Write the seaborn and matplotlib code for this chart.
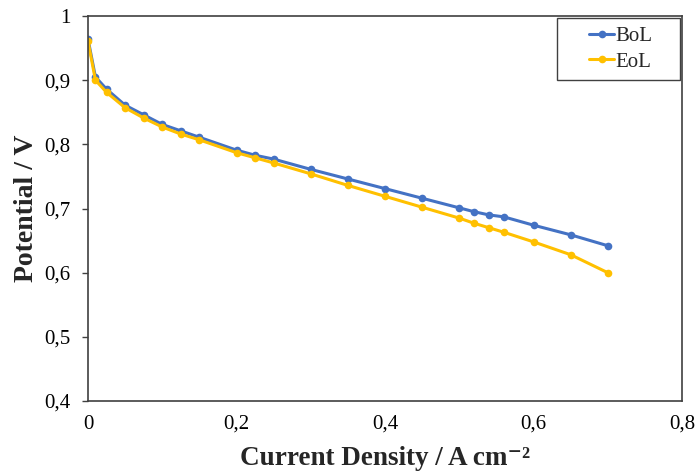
import matplotlib
matplotlib.use("Agg")
import matplotlib.pyplot as plt
import seaborn as sns
import pandas as pd
from matplotlib.patches import Rectangle
from matplotlib.ticker import FuncFormatter, MultipleLocator

current = [0, 0.01, 0.025, 0.05, 0.075, 0.1, 0.125, 0.15, 0.2, 0.225, 0.25,
           0.3, 0.35, 0.4, 0.45, 0.5, 0.52, 0.54, 0.56, 0.6, 0.65, 0.7]
bol = [0.964, 0.905, 0.886, 0.861, 0.846, 0.831, 0.821, 0.811, 0.791, 0.783, 0.777,
       0.761, 0.746, 0.731, 0.716, 0.701, 0.695, 0.690, 0.687, 0.674, 0.659, 0.642]
eol = [0.961, 0.900, 0.881, 0.857, 0.841, 0.827, 0.816, 0.807, 0.787, 0.779, 0.771,
       0.754, 0.736, 0.719, 0.702, 0.685, 0.677, 0.670, 0.663, 0.648, 0.628, 0.600]
series_names = ["BoL", "EoL"]
colors = ["#4472C4", "#FFC000"]

df = pd.concat([
    pd.DataFrame({"x": current, "y": bol, "s": series_names[0]}),
    pd.DataFrame({"x": current, "y": eol, "s": series_names[1]}),
])

sns.set_style("white")
plt.rcParams["font.family"] = ["Liberation Serif", "DejaVu Serif"]

fig = plt.figure(figsize=(6.98, 4.74), dpi=100)
ax = fig.add_axes([88/698, 1 - 401/474, (682-88)/698, (401-16)/474])

sns.lineplot(data=df, x="x", y="y", hue="s", palette=colors, marker="o",
             markersize=5.5, markeredgewidth=0, linewidth=2.2, sort=False, ax=ax)

ax.set_xlim(0, 0.8)
ax.set_ylim(0.4, 1.0)
ax.xaxis.set_major_locator(MultipleLocator(0.2))
ax.yaxis.set_major_locator(MultipleLocator(0.1))
fmt = FuncFormatter(lambda v, p: ("%g" % round(v, 2)).replace(".", ","))
ax.xaxis.set_major_formatter(fmt)
ax.yaxis.set_major_formatter(fmt)
ax.tick_params(axis="both", labelsize=15, colors="#404040", labelcolor="black")
ax.tick_params(axis="x", length=0, pad=10)
ax.tick_params(axis="y", length=4.5, width=1, direction="out", left=True, pad=8)

for sp in ax.spines.values():
    sp.set_color("#404040")
    sp.set_linewidth(1.2)

ax.set_xlabel("Current Density / A cm\u207b\u00b2", fontsize=19.5, fontweight="bold", labelpad=9)
ax.set_ylabel("Potential / V", fontsize=20, fontweight="bold", labelpad=4)

# legend: frame drawn as a box, entries centred inside it
box_x0, box_y0, box_w, box_h = 0.790, 0.834, 0.207, 0.161
ax.add_patch(Rectangle((box_x0, box_y0), box_w, box_h, transform=ax.transAxes,
                       facecolor="white", edgecolor="#404040", linewidth=1.0, zorder=4))
leg = ax.legend(loc="center", bbox_to_anchor=(box_x0 + box_w / 2 + 0.003, box_y0 + box_h / 2),
                fontsize=15, frameon=False, handlelength=1.2, handletextpad=0.05,
                borderpad=0.0, labelspacing=0.3)
leg.set_zorder(5)
leg.set_title(None)

fig.savefig("out.png", dpi=100)
